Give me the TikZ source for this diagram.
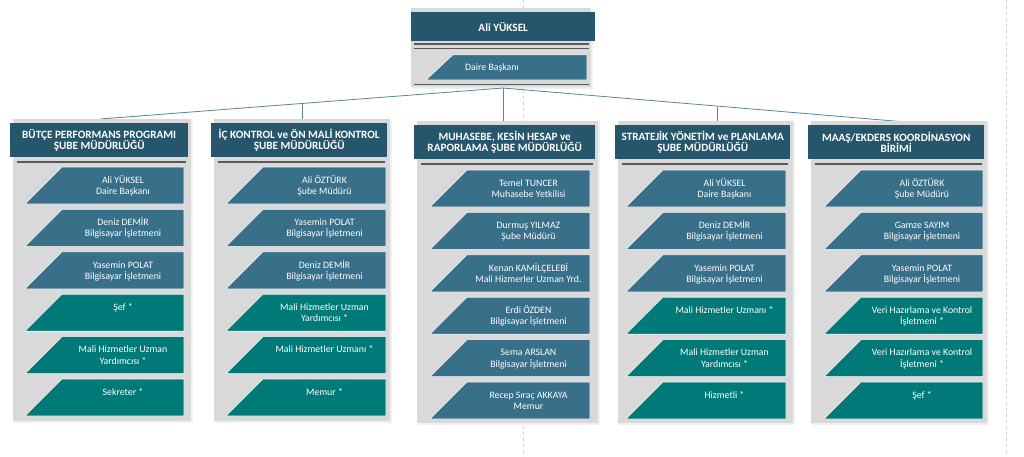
\documentclass[tikz,border=0pt]{standalone}
\usepackage{fontspec}
\setmainfont{Carlito}
\usetikzlibrary{calc}
\definecolor{hdr}{HTML}{26566B}
\definecolor{bluebox}{HTML}{386F89}
\definecolor{greenbox}{HTML}{007A78}
\definecolor{panelgray}{HTML}{D9D9D9}
\definecolor{rulegray}{HTML}{595959}
\definecolor{conn}{HTML}{5A8399}
\definecolor{shadowgray}{HTML}{F0F0F0}
\tikzset{
  hdrbox/.style={fill=hdr, text=white, font=\fontsize{11.2}{11.6}\selectfont\bfseries, align=center, inner sep=0pt, anchor=north west},
  boxtext/.style={text=white, font=\fontsize{9.8}{11.2}\selectfont, align=center, anchor=north, inner sep=0pt},
  pbox/.style={draw=white!75!panelgray, line width=0.6pt},
  panelbox/.style={fill=panelgray},
  panelshadow/.style={fill=shadowgray},
  hrule/.style={draw=rulegray, line width=2pt},
  connector/.style={draw=conn, line width=0.8pt},
  pagebreak/.style={draw=gray!35, dashed, line width=0.8pt},
}
% #1 name, #2 bottom-left x, #3 right x, #4 top y, #5 colour, #6 text
\newcommand\orgbox[6]{%
  \path[pbox, fill=#5] (#2,#4+37) -- (#2+37,#4) -- (#3,#4) -- (#3,#4+37) -- cycle;
  \node[boxtext] (#1) at ({(#2+37+#3)/2},#4+8) {\rule{0pt}{8pt}#6};
}
% #1 header left, #2 header right, #3 header top, #4 name, #5 header text
\newcommand\orgpanel[5]{%
  \fill[panelshadow] (#1+4,#3-3) rectangle (#2+5,#3+300);
  \fill[panelbox] (#1+3,#3-4) rectangle (#2+3,#3+298);
  \node[hdrbox, minimum width={(#2-#1)*1pt}, minimum height=34pt] (#4) at (#1,#3) {#5};
  \draw[hrule] (#1+7,#3+38.5) -- (#2-2,#3+38.5);
}
\begin{document}
\begin{tikzpicture}[x=1pt,y=-1pt]
\useasboundingbox (0,0) rectangle (1024,456);
% page-break guide lines
\draw[pagebreak] (523,0) -- (523,456);
\draw[pagebreak] (1006,0) -- (1006,456);

% top box
\fill[panelshadow] (412,10) rectangle (593,89);
\fill[panelbox] (411,8) rectangle (591,87);
\node[hdrbox, minimum width=184pt, minimum height=29pt] (top) at (411,12) {Ali YÜKSEL};
\draw[rulegray, line width=1.4pt] (414,44) -- (589,44);
\draw[rulegray, line width=1.4pt] (414,48.5) -- (589,48.5);
\path[pbox, fill=bluebox] (426,80) -- (453,54.7) -- (587,54.7) -- (587,80) -- cycle;
\node[text=white, font=\fontsize{9.8}{11.2}\selectfont, inner sep=0pt] (topsub) at (492,67.5) {Daire Başkanı};
\draw[rulegray, line width=1.4pt] (414,84.3) -- (589,84.3);

% connectors
\coordinate (hub) at (503,88);
\coordinate (c1) at (100,119);
\coordinate (j2) at (302,104);
\coordinate (c2) at (302,119);
\coordinate (c3) at (503,121);
\coordinate (j4) at (717,106.8);
\coordinate (c4) at (717,121);
\coordinate (c5) at (900,121.5);
\draw[connector] (hub) -- (c1);
\draw[connector] (j2) -- (c2);
\draw[connector] (hub) -- (c3);
\draw[connector] (hub) -- (c5);
\draw[connector] (j4) -- (c4);

% column 1
\orgpanel{10}{188}{123}{h1}{BÜTÇE PERFORMANS PROGRAMI\\ŞUBE MÜDÜRLÜĞÜ}
\orgbox{a1}{25}{184}{167}{bluebox}{Ali YÜKSEL\\Daire Başkanı}
\orgbox{a2}{25}{184}{209.4}{bluebox}{Deniz DEMİR\\Bilgisayar İşletmeni}
\orgbox{a3}{25}{184}{251.8}{bluebox}{Yasemin POLAT\\Bilgisayar İşletmeni}
\orgbox{a4}{25}{184}{294.2}{greenbox}{Şef *}
\orgbox{a5}{25}{184}{336.6}{greenbox}{Mali Hizmetler Uzman\\Yardımcısı *}
\orgbox{a6}{25}{184}{379}{greenbox}{Sekreter *}

% column 2
\orgpanel{211}{387}{123}{h2}{İÇ KONTROL ve ÖN MALİ KONTROL\\ŞUBE MÜDÜRLÜĞÜ}
\orgbox{b1}{226}{386}{167}{bluebox}{Ali ÖZTÜRK\\Şube Müdürü}
\orgbox{b2}{226}{386}{209.4}{bluebox}{Yasemin POLAT\\Bilgisayar İşletmeni}
\orgbox{b3}{226}{386}{251.8}{bluebox}{Deniz DEMİR\\Bilgisayar İşletmeni}
\orgbox{b4}{226}{386}{294.2}{greenbox}{Mali Hizmetler Uzman\\Yardımcısı *}
\orgbox{b5}{226}{386}{336.6}{greenbox}{Mali Hizmetler Uzmanı *}
\orgbox{b6}{226}{386}{379}{greenbox}{Memur *}

% column 3
\orgpanel{414}{595}{125}{h3}{MUHASEBE, KESİN HESAP ve\\RAPORLAMA ŞUBE MÜDÜRLÜĞÜ}
\orgbox{m1}{430}{590}{170}{bluebox}{Temel TUNCER\\Muhasebe Yetkilisi}
\orgbox{m2}{430}{590}{212.4}{bluebox}{Durmuş YILMAZ\\Şube Müdürü}
\orgbox{m3}{430}{590}{254.8}{bluebox}{Kenan KAMİLÇELEBİ\\Mali Hizmerler Uzman Yrd.}
\orgbox{m4}{430}{590}{297.2}{bluebox}{Erdi ÖZDEN\\Bilgisayar İşletmeni}
\orgbox{m5}{430}{590}{339.6}{bluebox}{Sema ARSLAN\\Bilgisayar İşletmeni}
\orgbox{m6}{430}{590}{382}{bluebox}{Recep Sıraç AKKAYA\\Memur}

% column 4
\orgpanel{615}{790}{125}{h4}{STRATEJİK YÖNETİM ve PLANLAMA\\ŞUBE MÜDÜRLÜĞÜ}
\orgbox{s1}{626}{786}{170}{bluebox}{Ali YÜKSEL\\Daire Başkanı}
\orgbox{s2}{626}{786}{212.4}{bluebox}{Deniz DEMİR\\Bilgisayar İşletmeni}
\orgbox{s3}{626}{786}{254.8}{bluebox}{Yasemin POLAT\\Bilgisayar İşletmeni}
\orgbox{s4}{626}{786}{297.2}{greenbox}{Mali Hizmetler Uzmanı *}
\orgbox{s5}{626}{786}{339.6}{greenbox}{Mali Hizmetler Uzman\\Yardımcısı *}
\orgbox{s6}{626}{786}{382}{greenbox}{Hizmetli *}

% column 5
\orgpanel{808}{984}{125}{h5}{MAAŞ/EKDERS KOORDİNASYON\\BİRİMİ}
\orgbox{k1}{824}{983}{170}{bluebox}{Ali ÖZTÜRK\\Şube Müdürü}
\orgbox{k2}{824}{983}{212.4}{bluebox}{Gamze SAYIM\\Bilgisayar İşletmeni}
\orgbox{k3}{824}{983}{254.8}{bluebox}{Yasemin POLAT\\Bilgisayar İşletmeni}
\orgbox{k4}{824}{983}{297.2}{greenbox}{Veri Hazırlama ve Kontrol\\İşletmeni *}
\orgbox{k5}{824}{983}{339.6}{greenbox}{Veri Hazırlama ve Kontrol\\İşletmeni *}
\orgbox{k6}{824}{983}{382}{greenbox}{Şef *}
\end{tikzpicture}
\end{document}
